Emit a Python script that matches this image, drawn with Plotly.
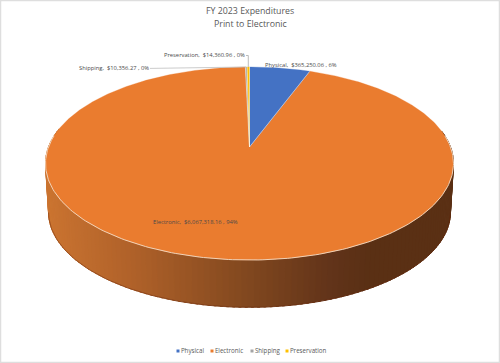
import numpy as np
import plotly.graph_objects as go

# ---- data ----
categories = ["Physical", "Electronic", "Shipping", "Preservation"]
values = [365250.06, 6067318.16, 10356.27, 14360.96]
title_lines = ["FY 2023 Expenditures", "Print to Electronic"]

# ---- styles and layout ----
colors = ["#4472C4", "#EA7C2F", "#A5A5A5", "#FFC000"]
FONT = "Open Sans"
TEXT = "#595959"
W, H = 500, 363
CX, CY = 249.5, 147.0      # pie centre on screen
A, B, K = 201.0, 93.7, 0.171   # perspective of the pie's top face
DEPTH, BOTTOM_SCALE = 49.0, 0.985
label_anchor = {"Physical": (301, 64.5), "Electronic": (195.5, 222),
                "Shipping": (114, 68), "Preservation": (204, 55)}
legend_key_x = [178, 212, 252, 287]
LEGEND_Y = 351
shade_x = [46, 130, 250, 330, 372, 455]
shade_rgb = [(203, 116, 49), (176, 98, 42), (128, 71, 31), (98, 52, 26), (90, 48, 20), (90, 48, 20)]


def project(theta_deg, scale=1.0, dy=0.0):
    t = np.radians(theta_deg)
    u, v = np.sin(t), np.cos(t)
    d = 1 + K * v
    return CX + scale * A * u / d, CY + dy - scale * B * v / d


total = sum(values)
edges = np.concatenate([[0], np.cumsum(values) / total * 360])
pct = [v / total * 100 for v in values]
texts = [f"{c},  ${v:,.2f} , {p:.0f}%" for c, v, p in zip(categories, values, pct)]

fig = go.Figure()

# side wall (gradient strips along the front of the disc)
step = 1.5
for t0 in np.arange(80, 280, step):
    ts = np.array([t0, t0 + step + 0.6])
    xt, yt = project(ts)
    xb, yb = project(ts, BOTTOM_SCALE, DEPTH)
    xm = float(xt.mean())
    rgb = [int(np.interp(xm, shade_x, [c[i] for c in shade_rgb])) for i in range(3)]
    col = f"rgb({rgb[0]},{rgb[1]},{rgb[2]})"
    fig.add_trace(go.Scatter(
        x=np.r_[xt, xb[::-1], xt[0]], y=np.r_[yt, yb[::-1], yt[0]],
        mode="lines", fill="toself", fillcolor=col, line=dict(color=col, width=0.8),
        hoverinfo="skip", showlegend=False))

# darker lower rim
ts = np.linspace(100, 260, 161)
xb, yb = project(ts, BOTTOM_SCALE, DEPTH)
fig.add_trace(go.Scatter(x=xb, y=yb, mode="lines", line=dict(color="rgba(100,35,5,0.55)", width=0.8),
                         hoverinfo="skip", showlegend=False))

# top-face slices, biggest first so thin ones stay visible
for i in [1, 0, 2, 3]:
    n = max(3, int((edges[i + 1] - edges[i]) * 2))
    ts = np.linspace(edges[i], edges[i + 1], n)
    xr, yr = project(ts)
    xs = np.r_[CX, xr, CX]
    ys = np.r_[CY, yr, CY]
    fig.add_trace(go.Scatter(
        x=xs, y=ys, mode="lines", fill="toself", fillcolor=colors[i],
        line=dict(color=colors[i], width=0.3), name=categories[i], text=texts[i],
        hoverinfo="text", showlegend=False))

# slice separators
for e in edges[:-1]:
    xr, yr = project(np.array([e]))
    fig.add_trace(go.Scatter(x=[CX, xr[0]], y=[CY, yr[0]], mode="lines",
                             line=dict(color="rgba(255,255,255,0.75)", width=0.6),
                             hoverinfo="skip", showlegend=False))

# pale highlight on the front edge of the top face
ts = np.linspace(83, 277, 195)
xr, yr = project(ts)
fig.add_trace(go.Scatter(x=xr, y=yr, mode="lines", line=dict(color="#F4DCC6", width=0.9),
                         hoverinfo="skip", showlegend=False))

# leader lines
mid = (edges[:-1] + edges[1:]) / 2
xs_, ys_ = project(np.array([mid[2]]))
lx, ly = label_anchor["Shipping"]
fig.add_trace(go.Scatter(x=[lx + 36, xs_[0]], y=[ly + 0.4, ys_[0]], mode="lines",
                         line=dict(color="#B5B5B5", width=0.7), hoverinfo="skip", showlegend=False))
xp_, yp_ = project(np.array([mid[3]]))
lx, ly = label_anchor["Preservation"]
fig.add_trace(go.Scatter(x=[lx + 42, xp_[0], xp_[0]], y=[ly + 0.5, ly + 0.5, yp_[0]], mode="lines",
                         line=dict(color="#A0A0A0", width=0.7), hoverinfo="skip", showlegend=False))

# legend keys and names
for c, col, kx in zip(categories, colors, legend_key_x):
    fig.add_trace(go.Scatter(x=[kx], y=[LEGEND_Y], mode="markers+text", name=c,
                             marker=dict(color=col, size=3, symbol="square"),
                             text=[c], textposition="middle right",
                             textfont=dict(family=FONT, size=6.2, color=TEXT),
                             hoverinfo="skip", showlegend=False))

annotations = [
    dict(x=250, y=11, text=title_lines[0], showarrow=False, xref="x", yref="y",
         font=dict(family=FONT, size=8.8, color=TEXT)),
    dict(x=250, y=24, text=title_lines[1], showarrow=False, xref="x", yref="y",
         font=dict(family=FONT, size=8.8, color=TEXT)),
]
for c, t in zip(categories, texts):
    ax, ay = label_anchor[c]
    annotations.append(dict(x=ax, y=ay, text=t, showarrow=False, xref="x", yref="y",
                            font=dict(family=FONT, size=5.8, color="#4A4A4A")))

fig.update_layout(
    width=W, height=H, margin=dict(l=0, r=0, t=0, b=0),
    paper_bgcolor="white", plot_bgcolor="white", showlegend=False,
    xaxis=dict(range=[0, W], visible=False, fixedrange=True),
    yaxis=dict(range=[H, 0], visible=False, fixedrange=True),
    annotations=annotations,
    shapes=[dict(type="rect", xref="paper", yref="paper", x0=0, y0=0, x1=1, y1=1,
                 line=dict(color="#DEDEDE", width=2.5), layer="above")],
)
fig.write_html("out.html", config={"displayModeBar": False},
               post_script="document.body.style.margin='0';document.documentElement.style.overflow='hidden';")
